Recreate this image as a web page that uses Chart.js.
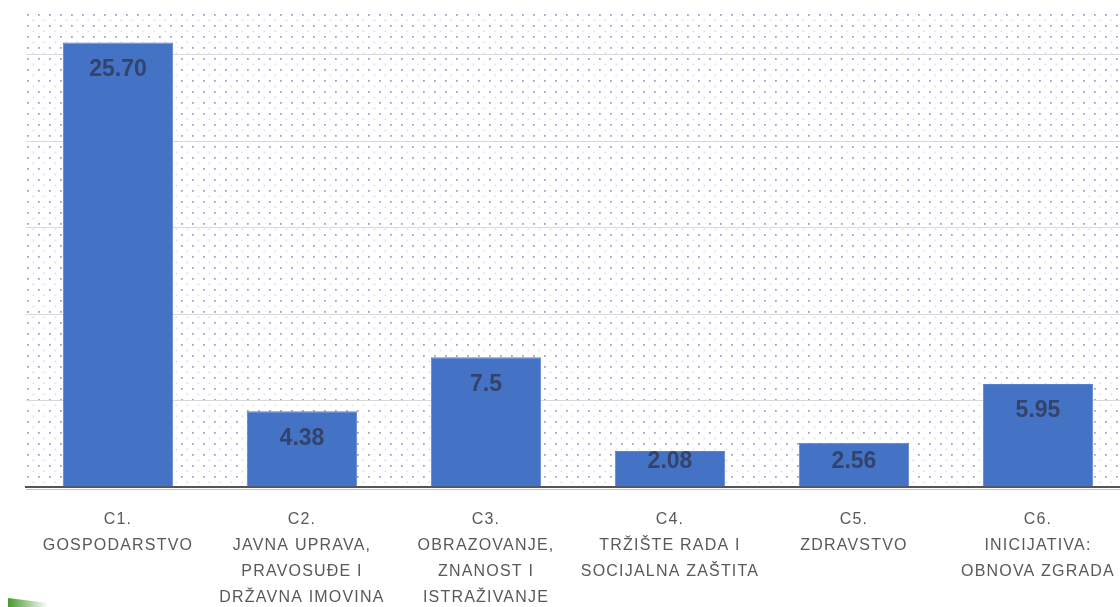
<!DOCTYPE html>
<html><head><meta charset="utf-8">
<script src="https://cdn.jsdelivr.net/npm/chart.js@4.4.1/dist/chart.umd.min.js"></script>
<style>
html,body{margin:0;padding:0;background:#fff;overflow:hidden;width:1120px;height:607px}
#wrap{width:1140px;height:607px}
</style></head><body>
<div id="wrap"><canvas id="c" width="1140" height="607"></canvas></div>
<script>
const categories = [
  ["C1.", "GOSPODARSTVO"],
  ["C2.", "JAVNA UPRAVA,", "PRAVOSUĐE I", "DRŽAVNA IMOVINA"],
  ["C3.", "OBRAZOVANJE,", "ZNANOST I", "ISTRAŽIVANJE"],
  ["C4.", "TRŽIŠTE RADA I", "SOCIJALNA ZAŠTITA"],
  ["C5.", "ZDRAVSTVO"],
  ["C6.", "INICIJATIVA:", "OBNOVA ZGRADA"]
];
const values = [25.70, 4.38, 7.5, 2.08, 2.56, 5.95];
const valueLabels = ["25.70", "4.38", "7.5", "2.08", "2.56", "5.95"];
const yMin = 0;
const yMax = 27.4;
const yStep = 5;

const dotPlugin = {
  id: 'dots',
  beforeDraw(chart) {
    const {ctx, chartArea: a} = chart;
    ctx.save();
    ctx.fillStyle = '#ffffff';
    ctx.fillRect(0, 0, chart.width, chart.height);
    ctx.fillStyle = 'rgba(120,125,190,0.7)';
    for (let y = a.top + 1; y < a.bottom - 1; y += 11) {
      for (let x = a.left + 1; x < a.right; x += 11) ctx.fillRect(x, y, 1.8, 1.8);
    }
    ctx.fillStyle = 'rgba(150,155,205,0.3)';
    for (let y = a.top + 6.5; y < a.bottom - 1; y += 11) {
      for (let x = a.left + 6.5; x < a.right; x += 11) ctx.fillRect(x, y, 1.8, 1.8);
    }
    ctx.restore();
    ctx.letterSpacing = '1.2px';
  },
  afterDraw(chart) {
    const ctx = chart.ctx;
    ctx.letterSpacing = '0px';
    ctx.save();
    ctx.strokeStyle = 'rgba(160,160,160,0.6)';
    ctx.lineWidth = 1;
    ctx.beginPath();
    ctx.moveTo(chart.chartArea.left, chart.chartArea.bottom + 2.5);
    ctx.lineTo(chart.chartArea.right, chart.chartArea.bottom + 2.5);
    ctx.stroke();
    const g = ctx.createLinearGradient(8, 0, 48, 0);
    g.addColorStop(0, 'rgba(70,155,45,1)');
    g.addColorStop(1, 'rgba(70,155,45,0)');
    ctx.fillStyle = g;
    ctx.beginPath();
    ctx.moveTo(8, 598); ctx.lineTo(48, 603); ctx.lineTo(48, 607); ctx.lineTo(8, 607);
    ctx.closePath(); ctx.fill();
    ctx.restore();
  }
};

const valueLabelPlugin = {
  id: 'valueLabels',
  afterDatasetsDraw(chart) {
    const ctx = chart.ctx;
    const meta = chart.getDatasetMeta(0);
    ctx.save();
    ctx.letterSpacing = '0px';
    ctx.font = 'bold 23px "Liberation Sans", Arial, sans-serif';
    ctx.fillStyle = '#33436b';
    ctx.textAlign = 'center';
    ctx.textBaseline = 'middle';
    meta.data.forEach((bar, i) => {
      const y = Math.min(bar.y + 27, bar.base - 25);
      ctx.fillText(valueLabels[i], bar.x, y);
    });
    ctx.restore();
  }
};

new Chart(document.getElementById('c'), {
  type: 'bar',
  data: {
    labels: categories,
    datasets: [{
      data: values,
      backgroundColor: '#4472c4',
      borderColor: '#5a82cc',
      borderWidth: 1,
      barPercentage: 0.6,
      categoryPercentage: 1.0
    }]
  },
  options: {
    responsive: false,
    animation: false,
    layout: {padding: {left: 26, right: 10, top: 13, bottom: 0}},
    plugins: {legend: {display: false}, tooltip: {enabled: false}},
    scales: {
      x: {
        grid: {display: false},
        border: {display: true, color: '#555555', width: 2},
        ticks: {
          color: '#595959',
          font: {family: '"Liberation Sans", Arial, sans-serif', size: 16, lineHeight: 1.625},
          padding: 12,
          autoSkip: false,
          maxRotation: 0,
          minRotation: 0
        },
        afterFit(s) { s.height = 120; }
      },
      y: {
        min: yMin,
        max: yMax,
        ticks: {display: false, stepSize: yStep},
        border: {display: false},
        grid: {
          drawTicks: false,
          lineWidth: 1,
          color: (c) => (c.tick && c.tick.value > 0 && Math.abs(c.tick.value % yStep) < 1e-9) ? '#d9d9d9' : 'rgba(0,0,0,0)'
        },
        afterFit(s) { s.width = 0; }
      }
    }
  },
  plugins: [dotPlugin, valueLabelPlugin]
});
</script>
</body></html>
